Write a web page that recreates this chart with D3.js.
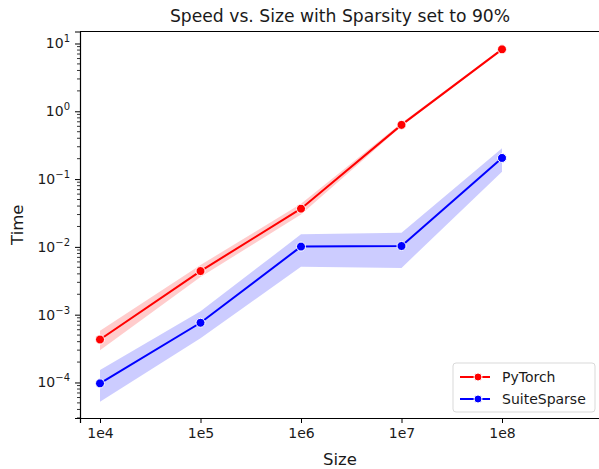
<!DOCTYPE html>
<html>
<head>
<meta charset="utf-8">
<script src="https://cdn.jsdelivr.net/npm/d3@7"></script>
<style>
body { margin: 0; background: #fff; }
text { font-family: "DejaVu Sans", sans-serif; fill: #1a1a1a; }
</style>
</head>
<body>
<script>
// data
var sizes = [1e4, 1e5, 1e6, 1e7, 1e8]
var sizeLabels = ["1e4", "1e5", "1e6", "1e7", "1e8"]
var torchMean = [4.3e-4, 4.4e-3, 0.0366, 0.63, 8.2]
var torchLow = [3.0e-4, 3.6e-3, 0.030, 0.60, 7.9]
var torchHigh = [5.8e-4, 5.4e-3, 0.0433, 0.67, 8.5]
var suiteMean = [9.7e-5, 7.6e-4, 0.0101, 0.0103, 0.205]
var suiteLow = [5.2e-5, 4.5e-4, 0.0051, 0.0049, 0.128]
var suiteHigh = [1.53e-4, 1.12e-3, 0.0153, 0.0162, 0.286]
var yTicks = [1e-4, 1e-3, 1e-2, 1e-1, 1e0, 1e1]
var yExp = ["\u22124", "\u22123", "\u22122", "\u22121", "0", "1"]

var W = 599, H = 469
// note: "top" is reserved on window, so prefix everything
var pLeft = 80, pRight = 600, pTop = 31.5, pBottom = 418

var svg = d3.select("body").append("svg")
	.attr("width", W)
	.attr("height", H)

var x = d3.scaleLog()
	.domain([Math.pow(10, 3.801), Math.pow(10, 8.975)])
	.range([pLeft, pRight])

var y = d3.scaleLog()
	.domain([Math.pow(10, -4.524), Math.pow(10, 1.177)])
	.range([pBottom, pTop])

var series = [
	{name: "PyTorch", color: "#ff0000", fill: "rgba(255,0,0,0.2)", mean: torchMean, lo: torchLow, hi: torchHigh},
	{name: "SuiteSparse", color: "#0000ff", fill: "rgba(0,0,255,0.2)", mean: suiteMean, lo: suiteLow, hi: suiteHigh}
]

var area = d3.area()
	.x(function(d) { return x(d.s) })
	.y0(function(d) { return y(d.lo) })
	.y1(function(d) { return y(d.hi) })

var line = d3.line()
	.x(function(d) { return x(d.s) })
	.y(function(d) { return y(d.m) })

series.forEach(function(s) {
	var pts = sizes.map(function(v, i) { return {s: v, m: s.mean[i], lo: s.lo[i], hi: s.hi[i]} })
	svg.append("path").datum(pts)
		.attr("d", area)
		.attr("fill", s.fill)
		.attr("stroke", "none")
	svg.append("path").datum(pts)
		.attr("d", line)
		.attr("fill", "none")
		.attr("stroke", s.color)
		.attr("stroke-width", 2)
	svg.selectAll(null).data(pts).enter().append("circle")
		.attr("cx", function(d) { return x(d.s) })
		.attr("cy", function(d) { return y(d.m) })
		.attr("r", 4.5)
		.attr("fill", s.color)
		.attr("stroke", "#fff")
		.attr("stroke-width", 1)
})

// axes
var xAxis = d3.axisBottom(x)
	.tickValues(sizes)
	.tickFormat(function(d, i) { return sizeLabels[i] })
	.tickSize(5)
	.tickPadding(5)

var gx = svg.append("g")
	.attr("transform", "translate(0," + pBottom + ")")
	.call(xAxis)
gx.select(".domain").attr("stroke", "#000").attr("stroke-width", 1.2)
gx.selectAll("text").attr("font-size", 14).attr("font-family", "DejaVu Sans").attr("fill", "#1a1a1a")

// minor y ticks
var minor = []
for (var e = -5; e <= 1; e++) {
	for (var k = 2; k <= 9; k++) {
		var v = k * Math.pow(10, e)
		if (v >= y.domain()[0] && v <= y.domain()[1]) minor.push(v)
	}
}
svg.append("g").selectAll("line").data(minor).enter().append("line")
	.attr("x1", pLeft - 3).attr("x2", pLeft)
	.attr("y1", function(d) { return y(d) })
	.attr("y2", function(d) { return y(d) })
	.attr("stroke", "#000").attr("stroke-width", 0.8)

var yAxis = d3.axisLeft(y)
	.tickValues(yTicks)
	.tickFormat("")
	.tickSize(5)

var gy = svg.append("g")
	.attr("transform", "translate(" + pLeft + ",0)")
	.call(yAxis)
gy.select(".domain").attr("stroke", "#000").attr("stroke-width", 1.2)

var lab = svg.append("g").selectAll("text").data(yTicks).enter().append("text")
	.attr("x", pLeft - 10)
	.attr("y", function(d) { return y(d) + 5 })
	.attr("text-anchor", "end")
	.attr("font-size", 14)
lab.append("tspan").text("10")
lab.append("tspan")
	.attr("dy", -6)
	.attr("font-size", 10)
	.text(function(d, i) { return yExp[i] })

// top spine
svg.append("line")
	.attr("x1", pLeft).attr("x2", pRight)
	.attr("y1", pTop).attr("y2", pTop)
	.attr("stroke", "#000").attr("stroke-width", 1.2)

// titles
svg.append("text")
	.attr("x", (pLeft + pRight) / 2)
	.attr("y", 22)
	.attr("text-anchor", "middle")
	.attr("font-size", 17.2)
	.text("Speed vs. Size with Sparsity set to 90%")

svg.append("text")
	.attr("x", (pLeft + pRight) / 2)
	.attr("y", 465)
	.attr("text-anchor", "middle")
	.attr("font-size", 16.5)
	.text("Size")

svg.append("text")
	.attr("transform", "translate(23," + (pTop + pBottom) / 2 + ") rotate(-90)")
	.attr("text-anchor", "middle")
	.attr("font-size", 16.5)
	.text("Time")

// legend
var lg = svg.append("g").attr("transform", "translate(453,363)")
lg.append("rect")
	.attr("width", 142).attr("height", 49)
	.attr("rx", 3)
	.attr("fill", "rgba(255,255,255,0.8)")
	.attr("stroke", "#d9d9d9")
var items = lg.selectAll(".item").data(series).enter().append("g")
	.attr("transform", function(d, i) { return "translate(0," + (14 + i * 22) + ")" })
items.append("line")
	.attr("x1", 7).attr("x2", 37)
	.attr("stroke", function(d) { return d.color })
	.attr("stroke-width", 2)
items.append("circle")
	.attr("cx", 25).attr("r", 4)
	.attr("fill", function(d) { return d.color })
	.attr("stroke", "#fff").attr("stroke-width", 1)
items.append("text")
	.attr("x", 49).attr("y", 5)
	.attr("font-size", 14)
	.text(function(d) { return d.name })
</script>
</body>
</html>
